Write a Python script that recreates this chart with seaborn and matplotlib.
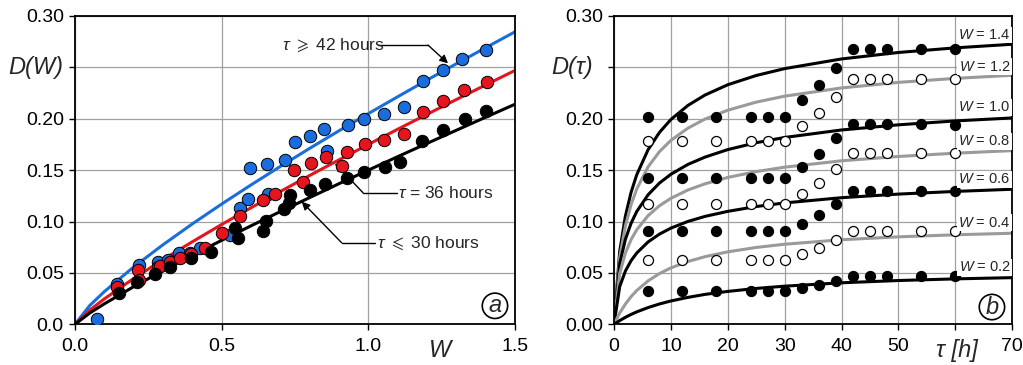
import matplotlib
matplotlib.use("Agg")
import matplotlib.pyplot as plt
import matplotlib.transforms as mtransforms
import seaborn as sns

# ---- panel (a): D vs W, three storage-time groups ----
blue_w = [0.074, 0.144, 0.219, 0.284, 0.318, 0.355, 0.392, 0.426, 0.528, 0.563, 0.591,
          0.597, 0.653, 0.659, 0.716, 0.750, 0.801, 0.850, 0.858, 0.932, 0.985, 1.053,
          1.123, 1.188, 1.253, 1.320, 1.401]
blue_d = [0.005, 0.039, 0.058, 0.061, 0.063, 0.069, 0.069, 0.074, 0.087, 0.113, 0.122,
          0.152, 0.156, 0.127, 0.160, 0.177, 0.183, 0.190, 0.169, 0.194, 0.200, 0.205,
          0.211, 0.237, 0.247, 0.258, 0.267]

red_w = [0.142, 0.216, 0.219, 0.284, 0.290, 0.324, 0.358, 0.394, 0.443, 0.500, 0.563,
         0.642, 0.682, 0.747, 0.776, 0.803, 0.855, 0.911, 0.926, 0.989, 1.055, 1.123,
         1.185, 1.256, 1.326, 1.403]
red_d = [0.036, 0.053, 0.043, 0.056, 0.057, 0.061, 0.065, 0.068, 0.074, 0.089, 0.105,
         0.121, 0.127, 0.150, 0.138, 0.157, 0.163, 0.154, 0.168, 0.175, 0.179, 0.185,
         0.207, 0.217, 0.228, 0.236]

black_w = [0.151, 0.213, 0.274, 0.324, 0.394, 0.463, 0.545, 0.557, 0.642, 0.651, 0.714,
           0.733, 0.731, 0.801, 0.852, 0.926, 0.985, 1.057, 1.108, 1.184, 1.256, 1.328,
           1.401]
black_d = [0.030, 0.041, 0.049, 0.056, 0.065, 0.070, 0.094, 0.084, 0.091, 0.101, 0.112,
           0.126, 0.118, 0.131, 0.137, 0.142, 0.148, 0.153, 0.158, 0.178, 0.189, 0.200,
           0.208]

# fitted curves
fit_w = [0.0, 0.05, 0.1, 0.2, 0.3, 0.4, 0.5, 0.6, 0.7, 0.8, 0.9, 1.0, 1.1, 1.2, 1.3, 1.4, 1.5]
fit_blue = [0.0, 0.0182, 0.0318, 0.0558, 0.0774, 0.0977, 0.1170, 0.1356, 0.1536, 0.1712,
            0.1883, 0.2050, 0.2214, 0.2376, 0.2535, 0.2691, 0.2846]
fit_red = [0.0, 0.0137, 0.0247, 0.0446, 0.0629, 0.0803, 0.0971, 0.1134, 0.1292, 0.1448,
           0.1600, 0.1750, 0.1898, 0.2043, 0.2187, 0.2329, 0.2470]
fit_black = [0.0, 0.0109, 0.0199, 0.0366, 0.0522, 0.0672, 0.0817, 0.0958, 0.1097, 0.1233,
             0.1368, 0.1500, 0.1631, 0.1760, 0.1888, 0.2015, 0.2141]

# ---- panel (b): D vs tau for several W ----
tau_pts = [6, 12, 18, 24, 27, 30, 33, 36, 39, 42, 45, 48, 54, 60]
w_levels = ["1.4", "1.2", "1.0", "0.8", "0.6", "0.4", "0.2"]
d_pts = {
    "1.4": [0.202, 0.202, 0.202, 0.202, 0.202, 0.202, 0.218, 0.233, 0.249, 0.268, 0.268, 0.268, 0.268, 0.268],
    "1.2": [0.178, 0.178, 0.178, 0.178, 0.178, 0.178, 0.193, 0.206, 0.2215, 0.239, 0.239, 0.239, 0.239, 0.239],
    "1.0": [0.142, 0.142, 0.142, 0.142, 0.142, 0.142, 0.153, 0.166, 0.1816, 0.1946, 0.1946, 0.1946, 0.1946, 0.194],
    "0.8": [0.1174, 0.1174, 0.1174, 0.1174, 0.1174, 0.1174, 0.1268, 0.1378, 0.1508, 0.1664, 0.1664, 0.1664, 0.1664, 0.1664],
    "0.6": [0.0908, 0.0908, 0.0908, 0.0908, 0.0908, 0.0908, 0.0976, 0.1064, 0.1171, 0.130, 0.130, 0.130, 0.130, 0.130],
    "0.4": [0.0626, 0.0626, 0.0626, 0.0626, 0.0626, 0.0626, 0.0681, 0.074, 0.082, 0.0911, 0.0911, 0.0911, 0.0911, 0.0911],
    "0.2": [0.0324, 0.0324, 0.0324, 0.0324, 0.0324, 0.0322, 0.035, 0.0383, 0.0425, 0.0474, 0.0474, 0.0474, 0.0474, 0.0474],
}
fit_tau = [0, 1, 2, 3, 4, 6, 8, 10, 13, 16, 20, 25, 30, 40, 50, 60, 70]
d_fit = {
    "1.4": [0, 0.0710, 0.1052, 0.1284, 0.1456, 0.1700, 0.1868, 0.1993, 0.2130, 0.2231, 0.2331, 0.2421, 0.2488, 0.2582, 0.2645, 0.2690, 0.2725],
    "1.2": [0, 0.0649, 0.0957, 0.1164, 0.1317, 0.1533, 0.1681, 0.1790, 0.1909, 0.1997, 0.2083, 0.2162, 0.2220, 0.2300, 0.2354, 0.2393, 0.2423],
    "1.0": [0, 0.0590, 0.0827, 0.0983, 0.1098, 0.1261, 0.1375, 0.1460, 0.1556, 0.1627, 0.1700, 0.1767, 0.1818, 0.1891, 0.1941, 0.1979, 0.2008],
    "0.8": [0, 0.0494, 0.0693, 0.0824, 0.0920, 0.1058, 0.1154, 0.1226, 0.1307, 0.1367, 0.1429, 0.1486, 0.1529, 0.1591, 0.1633, 0.1665, 0.1690],
    "0.6": [0, 0.0367, 0.0518, 0.0619, 0.0694, 0.0802, 0.0878, 0.0936, 0.1001, 0.1050, 0.1099, 0.1146, 0.1181, 0.1232, 0.1267, 0.1293, 0.1314],
    "0.4": [0, 0.0110, 0.0197, 0.0269, 0.0329, 0.0423, 0.0494, 0.0549, 0.0611, 0.0658, 0.0705, 0.0748, 0.0779, 0.0823, 0.0851, 0.0871, 0.0886],
    "0.2": [0, 0.0036, 0.0068, 0.0096, 0.0121, 0.0163, 0.0198, 0.0227, 0.0262, 0.0291, 0.0320, 0.0349, 0.0371, 0.0404, 0.0426, 0.0442, 0.0454],
}
label_y = {"1.4": 0.2815, "1.2": 0.2507, "1.0": 0.211, "0.8": 0.178, "0.6": 0.141, "0.4": 0.099, "0.2": 0.0555}

BLUE = "#1b6ddd"
RED = "#e5141f"
GREY = "#9a9a9a"

sns.set_style("ticks")
plt.rcParams["font.family"] = ["Liberation Sans", "DejaVu Sans"]
plt.rcParams["mathtext.fontset"] = "custom"
plt.rcParams["mathtext.rm"] = "Liberation Sans"
plt.rcParams["mathtext.it"] = "Liberation Sans:italic"
plt.rcParams["axes.linewidth"] = 1.3

fig = plt.figure(figsize=(10.23, 3.65), dpi=100)
ax1 = fig.add_axes([0.0733, 0.1115, 0.4301, 0.8447])
ax2 = fig.add_axes([0.6002, 0.1115, 0.3893, 0.8447])


def style_axes(ax):
    ax.grid(True, color="#a0a0a0", lw=0.9)
    ax.set_axisbelow(True)
    for s in ax.spines.values():
        s.set_color("black")
        s.set_linewidth(1.3)
    ax.tick_params(direction="out", length=4, width=1, labelsize=14, colors="black")
    ax.tick_params(axis="x", pad=6)
    ax.tick_params(axis="y", pad=4)
    ax.set_xlabel("")
    ax.set_ylabel("")


# ---- panel a ----
sns.lineplot(x=fit_w, y=fit_blue, color=BLUE, lw=2.2, ax=ax1)
sns.lineplot(x=fit_w, y=fit_red, color=RED, lw=2.2, ax=ax1)
sns.lineplot(x=fit_w, y=fit_black, color="black", lw=2.2, ax=ax1)
sns.scatterplot(x=blue_w, y=blue_d, color=BLUE, edgecolor="black", linewidth=0.7, s=80, ax=ax1, zorder=3)
sns.scatterplot(x=red_w, y=red_d, color=RED, edgecolor="black", linewidth=0.7, s=80, ax=ax1, zorder=4)
sns.scatterplot(x=black_w, y=black_d, color="black", edgecolor="black", linewidth=0.7, s=80, ax=ax1, zorder=5)

ax1.set_xlim(0, 1.5)
ax1.set_ylim(0, 0.30)
ax1.set_xticks([0, 0.5, 1.0, 1.5])
ax1.set_xticklabels(["0.0", "0.5", "1.0", "1.5"])
ax1.set_yticks([0, 0.05, 0.10, 0.15, 0.20, 0.25, 0.30])
ax1.set_yticklabels(["0.0", "0.05", "0.10", "0.15", "0.20", "", "0.30"])
style_axes(ax1)

tr1 = mtransforms.blended_transform_factory(ax1.transAxes, ax1.transData)
ax1.text(-0.027, 0.25, "D(W)", transform=tr1, ha="right", va="center", fontsize=17, style="italic")
tr1x = mtransforms.blended_transform_factory(ax1.transData, ax1.transAxes)
ax1.text(1.244, -0.084, "W", transform=tr1x, ha="center", va="center", fontsize=17, style="italic")

# leader lines and arrows
ann_fs = 12.5
ax1.text(0.705, 0.2717, r"$\tau$ $\geqslant$ 42 hours", ha="left", va="center", fontsize=ann_fs)
ax1.plot([1.033, 1.2035], [0.2717, 0.2717], color="black", lw=1)
ax1.annotate("", xy=(1.2717, 0.2539), xytext=(1.2035, 0.2717),
             arrowprops=dict(arrowstyle="-|>", color="black", lw=1, shrinkA=0, shrinkB=0, mutation_scale=12))

ax1.text(1.101, 0.128, r"$\tau$ = 36 hours", ha="left", va="center", fontsize=ann_fs)
ax1.plot([1.098, 0.982], [0.128, 0.128], color="black", lw=1)
ax1.annotate("", xy=(0.8865, 0.1566), xytext=(0.982, 0.128),
             arrowprops=dict(arrowstyle="-|>", color="black", lw=1, shrinkA=0, shrinkB=0, mutation_scale=12))

ax1.text(1.0286, 0.0794, r"$\tau$ $\leqslant$ 30 hours", ha="left", va="center", fontsize=ann_fs)
ax1.plot([1.0226, 0.909], [0.0794, 0.0794], color="black", lw=1)
ax1.annotate("", xy=(0.773, 0.1193), xytext=(0.909, 0.0794),
             arrowprops=dict(arrowstyle="-|>", color="black", lw=1, shrinkA=0, shrinkB=0, mutation_scale=12))

ax1.text(0.9545, 0.06, "a", transform=ax1.transAxes, ha="center", va="center", fontsize=17,
         style="italic", bbox=dict(boxstyle="circle,pad=0.05", fc="white", ec="black", lw=1.2))

# ---- panel b ----
for i, w in enumerate(w_levels):
    filled = i % 2 == 0
    sns.lineplot(x=fit_tau, y=d_fit[w], color="black" if filled else GREY, lw=2.2, ax=ax2)
    sns.scatterplot(x=tau_pts, y=d_pts[w], color="black" if filled else "white",
                    edgecolor="black", linewidth=0.9, s=52, ax=ax2, zorder=4)
    ax2.text(69.7, label_y[w], r"$W$ = " + w, ha="right", va="center", fontsize=10.5, zorder=5,
             bbox=dict(boxstyle="square,pad=0.1", fc="white", ec="none"))

ax2.set_xlim(0, 70)
ax2.set_ylim(0, 0.30)
ax2.set_xticks(range(0, 71, 10))
ax2.set_xticklabels(["0", "10", "20", "30", "40", "50", "", "70"])
ax2.set_yticks([0, 0.05, 0.10, 0.15, 0.20, 0.25, 0.30])
ax2.set_yticklabels(["0.00", "0.05", "0.10", "0.15", "0.20", "", "0.30"])
style_axes(ax2)

tr2 = mtransforms.blended_transform_factory(ax2.transAxes, ax2.transData)
ax2.text(-0.052, 0.25, "D(τ)", transform=tr2, ha="right", va="center", fontsize=17, style="italic")
tr2x = mtransforms.blended_transform_factory(ax2.transData, ax2.transAxes)
ax2.text(60.3, -0.084, "τ [h]", transform=tr2x, ha="center", va="center", fontsize=17, style="italic")

ax2.text(0.949, 0.056, "b", transform=ax2.transAxes, ha="center", va="center", fontsize=17,
         style="italic", bbox=dict(boxstyle="circle,pad=0.05", fc="white", ec="black", lw=1.2))

fig.savefig("out.png", dpi=100)
